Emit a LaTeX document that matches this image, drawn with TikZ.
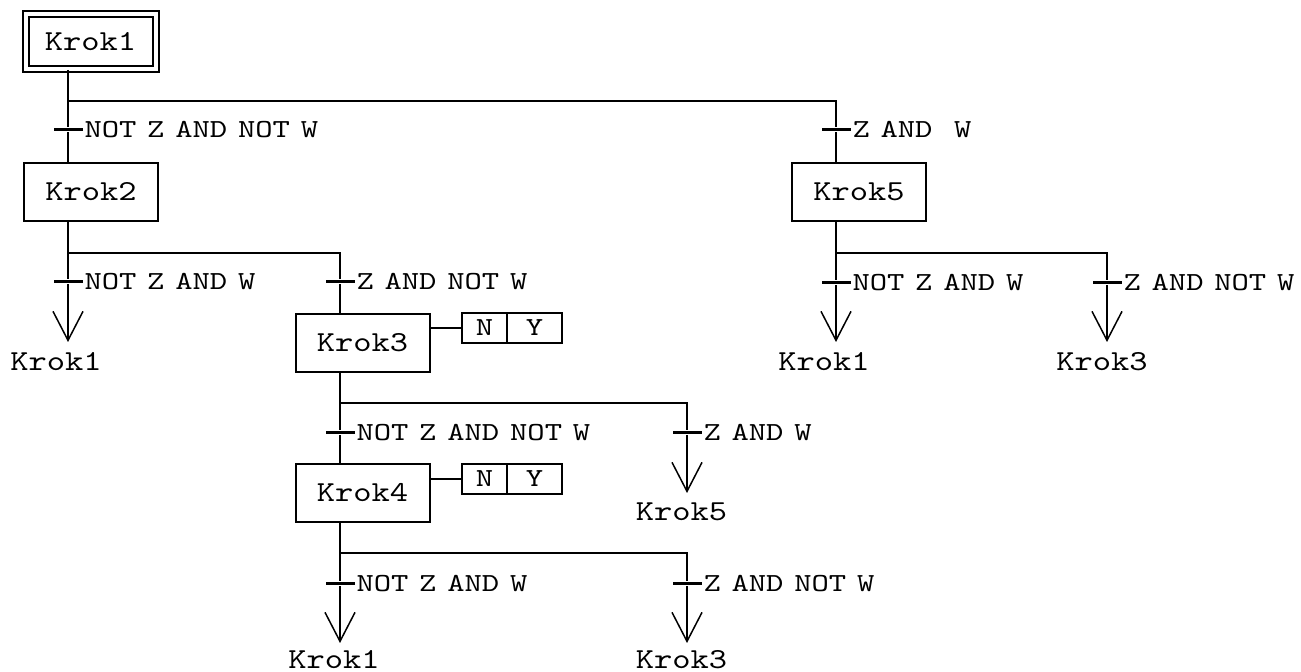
\documentclass[tikz,border=0pt]{standalone}
\usepackage{fontspec}
\usepackage{tikz}
\usetikzlibrary{arrows.meta, positioning}
\newfontfamily\stepfam{lmmono10-regular.otf}[FakeStretch=1.2]
\newfontfamily\condfam{lmmono10-regular.otf}[FakeStretch=1.27,WordSpace=0.62]
\newcommand\stepfont{\stepfam\fontsize{14.5pt}{17pt}\selectfont}
\newcommand\condfont{\condfam\fontsize{13pt}{15pt}\selectfont}
\tikzset{
  stepbox/.style={draw, line width=1pt, minimum width=67pt, minimum height=29pt, inner sep=0pt, font=\stepfont},
  initbox/.style={stepbox, double, double distance=2pt, minimum width=65pt, minimum height=27.5pt},
  actbox/.style={draw, line width=1pt, minimum height=15pt, inner sep=0pt, outer sep=0pt, font=\condfont},
  trans/.style={fill, inner sep=0pt, minimum width=14.5pt, minimum height=1.5pt},
  target/.style={anchor=north, inner xsep=0pt, inner ysep=5pt, outer sep=0pt, font=\stepfont},
  arr/.style={-{Straight Barb[length=14.5pt, width=15pt, line width=0.75pt]}}
}

\begin{document}
\begin{tikzpicture}[x=0.5pt, y=-0.5pt, line width=1pt,
    every label/.style={inner sep=0pt, font=\condfont}, label distance=0pt]
            \useasboundingbox (0,0) rectangle (1301,672);

            % Steps
            \node[initbox] (k1) at (90.5,41.5) {Krok1};
            \node[stepbox] (k2) at (91,192) {Krok2};
            \node[stepbox] (k3) at (362.5,343) {Krok3};
            \node[stepbox] (k4) at (362.5,493) {Krok4};
            \node[stepbox] (k5) at (859,192) {Krok5};

            % Actions
            \node[actbox, minimum width=22.5pt] (n3) at (484.5,328) {N};
            \node[actbox, minimum width=27.5pt, right=0pt of n3] (y3) {Y};
            \node[actbox, minimum width=22.5pt] (n4) at (484.5,479) {N};
            \node[actbox, minimum width=27.5pt, right=0pt of n4] (y4) {Y};
            \draw (k3.east |- n3.west) -- (n3.west);
            \draw (k4.east |- n4.west) -- (n4.west);

            % Transitions
            \node[trans, label=right:NOT Z AND NOT W] (t11) at (68,130) {};
            \node[trans, label=right:Z AND~~W] (t12) at (836,130) {};
            \node[trans, label=right:NOT Z AND W] (t21) at (68,282) {};
            \node[trans, label=right:Z AND NOT W] (t22) at (340,282) {};
            \node[trans, label=right:NOT Z AND NOT W] (t31) at (340,433) {};
            \node[trans, label=right:Z AND W] (t32) at (687,433) {};
            \node[trans, label=right:NOT Z AND W] (t41) at (340,584) {};
            \node[trans, label=right:Z AND NOT W] (t42) at (687,584) {};
            \node[trans, label=right:NOT Z AND W] (t51) at (836,283) {};
            \node[trans, label=right:Z AND NOT W] (t52) at (1107,283) {};

            % Jump targets
            \node[target] (g21) at (56,342) {Krok1};
            \node[target] (g32) at (681.5,493) {Krok5};
            \node[target, inner ysep=3.5pt] (g41) at (334,643) {Krok1};
            \node[target, inner ysep=3.5pt] (g42) at (681.5,643) {Krok3};
            \node[target] (g51) at (824,342) {Krok1};
            \node[target] (g52) at (1102,342) {Krok3};

            % Branch points
            \coordinate (b1) at (68,101);   \coordinate (b1r) at (836,101);
            \coordinate (b2) at (68,253);   \coordinate (b2r) at (340,253);
            \coordinate (b3) at (340,403);  \coordinate (b3r) at (687,403);
            \coordinate (b4) at (340,553);  \coordinate (b4r) at (687,553);
            \coordinate (b5) at (836,253);  \coordinate (b5r) at (1107,253);

            % Links
            \draw (k1.south -| b1) -- (b1) -- (b1r) -- (t12) -- (t12 |- k5.north);
            \draw (b1) -- (t11) -- (t11 |- k2.north);
            \draw (k2.south -| b2) -- (b2) -- (b2r) -- (t22) -- (t22 |- k3.north);
            \draw[arr] (b2) -- (t21) -- (t21 |- g21.north);
            \draw (k3.south -| b3) -- (b3) -- (t31) -- (t31 |- k4.north);
            \draw[arr] (b3) -- (b3r) -- (t32) -- (t32 |- g32.north);
            \draw[arr] (k4.south -| b4) -- (b4) -- (t41) -- (t41 |- g41.north);
            \draw[arr] (b4) -- (b4r) -- (t42) -- (t42 |- g42.north);
            \draw[arr] (k5.south -| b5) -- (b5) -- (t51) -- (t51 |- g51.north);
            \draw[arr] (b5) -- (b5r) -- (t52) -- (t52 |- g52.north);
        \end{tikzpicture}
\end{document}
